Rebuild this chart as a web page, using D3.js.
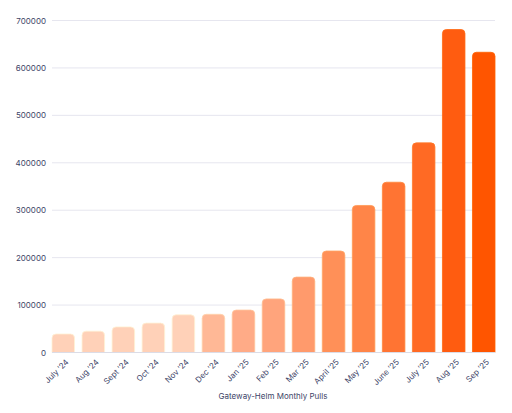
<!DOCTYPE html>
<html><head><meta charset="utf-8">
<script src="https://cdn.jsdelivr.net/npm/d3@7"></script>
<style>body{margin:0;background:#fff}svg{display:block}</style>
</head><body><svg id="c" width="512" height="413"></svg>
<script>
const months = ["July \u201924","Aug \u201924","Sept \u201924","Oct \u201924","Nov \u201924","Dec \u201924","Jan \u201925","Feb \u201925","Mar \u201925","April \u201925","May \u201925","June \u201925","July \u201925","Aug \u201925","Sep \u201925"];
const pulls = [39000,45000,54000,62000,79500,80500,89500,113000,159000,214000,310000,359000,442000,681000,633000];
const barColors = ["#ffd1b8","#ffd1b8","#ffd1b8","#ffd1b8","#ffd1b8","#ffb896","#ffab87","#ffa47c","#ff9a6c","#ff9058","#ff8548","#ff7433","#ff6a24","#ff5c10","#ff5500"];
const yTicks = [0,100000,200000,300000,400000,500000,600000,700000];
const xTitle = "Gateway-Helm Monthly Pulls";

const svg = d3.select("#c");
const L = 52, R = 495, T = 20.5, B = 352.5;
const x = d3.scaleBand().domain(months).range([L, R]).paddingInner(0.25).paddingOuter(0);
const y = d3.scaleLinear().domain([0, 700000]).range([B, T]);

const font = "Inter, 'Open Sans', sans-serif";
const txt = "#3d4467";

// gridlines
svg.append("g").selectAll("line").data(yTicks).join("line")
  .attr("x1", L).attr("x2", R)
  .attr("y1", d => y(d)).attr("y2", d => y(d))
  .attr("stroke", "#e6e6ef").attr("stroke-width", 1);

// y axis
const ya = svg.append("g").attr("transform", `translate(${L},0)`)
  .call(d3.axisLeft(y).tickValues(yTicks).tickFormat(d3.format("d")).tickSize(0).tickPadding(6));
ya.select(".domain").remove();
ya.selectAll("text").attr("font-family", font).attr("font-size", 8).attr("fill", txt);

// bars with rounded top
const r = 4;
function barPath(d, i) {
  const x0 = x(months[i]), w = x.bandwidth(), y0 = y(d), y1 = y(0);
  return `M${x0},${y1}V${y0 + r}Q${x0},${y0} ${x0 + r},${y0}H${x0 + w - r}Q${x0 + w},${y0} ${x0 + w},${y0 + r}V${y1}Z`;
}
svg.append("g").selectAll("path").data(pulls).join("path")
  .attr("d", (d, i) => barPath(d, i))
  .attr("fill", (d, i) => barColors[i])
  .attr("stroke", (d, i) => d3.color(barColors[i]).brighter(0.4))
  .attr("stroke-width", 0.8);

// baseline
svg.append("line").attr("x1", L).attr("x2", R).attr("y1", B).attr("y2", B)
  .attr("stroke", "#dcdce6").attr("stroke-width", 1);

// x axis
const xa = svg.append("g").attr("transform", `translate(0,${B})`)
  .call(d3.axisBottom(x).tickSize(0).tickPadding(0));
xa.select(".domain").remove();
xa.selectAll("text")
  .attr("font-family", font).attr("font-size", 8).attr("fill", txt)
  .attr("text-anchor", "end")
  .attr("dy", "0.35em")
  .attr("transform", "translate(4,8) rotate(-45)");

svg.append("text").attr("x", 273).attr("y", 399)
  .attr("text-anchor", "middle").attr("font-family", font).attr("font-size", 8)
  .attr("fill", txt).text(xTitle);
</script></body></html>
